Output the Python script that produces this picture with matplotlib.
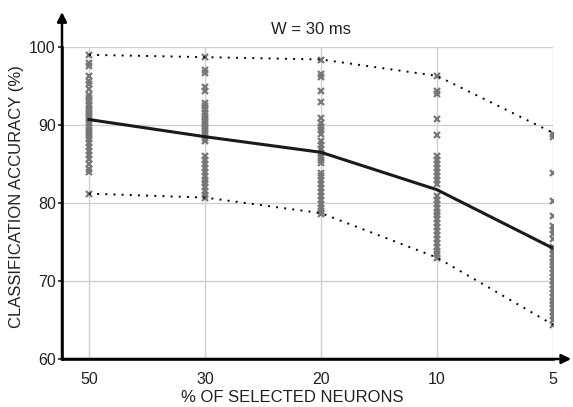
import numpy as np
import matplotlib
matplotlib.use('Agg')
import matplotlib.pyplot as plt

plt.rcParams['font.family'] = ['Liberation Sans', 'DejaVu Sans']

# data
categories = ['50', '30', '20', '10', '5']
mean_acc = [90.7, 88.5, 86.5, 81.7, 74.2]
upper_acc = [99.0, 98.7, 98.4, 96.3, 89.0]
lower_acc = [81.2, 80.7, 78.7, 73.0, 64.4]

trials_50 = [99.0, 98.0, 97.5, 96.3, 95.7, 95.2, 94.6, 93.9, 93.5, 93.1, 92.6, 92.2,
             91.8, 91.4, 91.0, 90.6, 90.2, 89.8, 89.4, 89.0, 88.6, 88.2, 87.7, 87.2,
             86.7, 86.2, 85.6, 85.0, 84.4, 84.0, 81.2]
trials_30 = [98.7, 97.0, 96.7, 94.9, 94.4, 92.8, 92.4, 92.0, 91.6, 91.2, 90.8, 90.4,
             90.0, 89.6, 89.2, 88.8, 88.3, 87.9, 86.0, 85.5, 85.0, 84.5, 84.0, 83.5,
             83.0, 82.5, 82.0, 81.5, 81.0, 80.7]
trials_20 = [98.3, 96.5, 96.1, 94.3, 93.0, 90.9, 90.3, 89.8, 89.3, 88.8, 87.9, 87.4,
             86.9, 86.4, 85.9, 85.5, 85.1, 83.9, 83.4, 82.9, 82.4, 81.9, 81.4, 80.9,
             80.4, 79.9, 79.4, 79.0, 78.6]
trials_10 = [96.3, 94.4, 94.0, 90.8, 88.7, 86.0, 85.5, 85.0, 84.5, 84.0, 83.5, 83.0,
             82.4, 80.9, 80.4, 79.9, 79.4, 78.9, 78.4, 77.9, 77.4, 76.9, 76.4, 75.9,
             75.4, 74.9, 74.4, 73.9, 73.4, 72.9]
trials_5 = [88.9, 88.5, 83.9, 80.2, 78.3, 77.0, 76.5, 76.0, 75.4, 74.4, 74.0, 73.5,
            73.0, 72.5, 72.0, 71.5, 71.0, 70.5, 70.0, 69.5, 69.0, 68.5, 68.0, 67.5,
            67.0, 66.5, 66.0, 65.5, 65.0, 64.4]
trials = [trials_50, trials_30, trials_20, trials_10, trials_5]

fig = plt.figure(figsize=(5.73, 4.07), dpi=100)
ax = fig.add_axes([62 / 573, 1 - 359 / 407, 491 / 573, 312 / 407])

x = np.arange(len(categories))

# grid
for xi in x:
    ax.axvline(xi, color='#cfcfcf', linewidth=1, zorder=0)
for yv in [70, 80, 90, 100]:
    ax.axhline(yv, color='#cfcfcf', linewidth=1, zorder=0)

# trial points
for xi, vals in zip(x, trials):
    ax.plot([xi] * len(vals), vals, linestyle='none', marker='x', markersize=4.5,
            markeredgewidth=1.6, color='#777777', zorder=2)

ax.plot(x, upper_acc, linestyle=(0, (1, 3.2)), color='black', linewidth=1.4, zorder=3)
ax.plot(x, lower_acc, linestyle=(0, (1, 3.2)), color='black', linewidth=1.4, zorder=3)
ax.plot(x, mean_acc, color='#1a1a1a', linewidth=2.2, zorder=4)

ax.set_xlim(-27 / 116, 4)
ax.set_ylim(60, 100)
ax.set_xticks(x)
ax.set_xticklabels(categories)
ax.set_yticks([60, 70, 80, 90, 100])
ax.tick_params(axis='x', labelsize=11.5, length=0, pad=9, colors='#222222')
ax.tick_params(axis='y', labelsize=11.5, length=3, width=1.2, direction='out',
               pad=1.5, colors='#222222')

for s in ['top', 'right']:
    ax.spines[s].set_visible(False)
for s in ['left', 'bottom']:
    ax.spines[s].set_linewidth(1.8)

# axis arrows
ax.annotate('', xy=(0, 1.112), xytext=(0, 0), xycoords='axes fraction',
            arrowprops=dict(arrowstyle='-|>', color='black', lw=1.8,
                            mutation_scale=14, shrinkA=0, shrinkB=0),
            annotation_clip=False)
ax.annotate('', xy=(1.037, 0), xytext=(0, 0), xycoords='axes fraction',
            arrowprops=dict(arrowstyle='-|>', color='black', lw=1.8,
                            mutation_scale=14, shrinkA=0, shrinkB=0),
            annotation_clip=False)

fig.text(292 / 573, 1 - 398 / 407, '% OF SELECTED NEURONS', fontsize=12,
         ha='center', va='center', color='#222222')
fig.text(17 / 573, 1 - 197 / 407, 'CLASSIFICATION ACCURACY (%)', fontsize=12,
         rotation=90, ha='center', va='center', color='#222222')
fig.text(311 / 573, 1 - 30 / 407, 'W = 30 ms', fontsize=12, ha='center', va='center',
         color='#222222')

fig.savefig('out.png', dpi=100)
